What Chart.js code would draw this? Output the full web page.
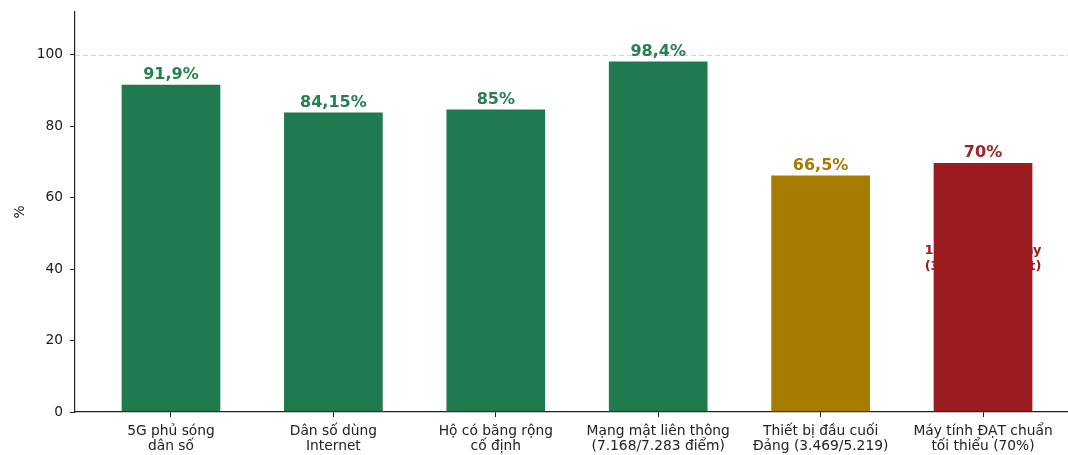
<!DOCTYPE html>
<html>
<head>
<meta charset="utf-8">
<script src="https://cdn.jsdelivr.net/npm/chart.js@4.4.1/dist/chart.umd.min.js"></script>
<style>
  html, body { margin: 0; padding: 0; background: #fff; overflow: hidden; }
  #wrap { width: 1090px; height: 455px; }
</style>
</head>
<body>
<div id="wrap"><canvas id="c" width="1090" height="455"></canvas></div>
<script>
const categories = [
  ["5G phủ sóng", "dân số"],
  ["Dân số dùng", "Internet"],
  ["Hộ có băng rộng", "cố định"],
  ["Mạng mật liên thông", "(7.168/7.283 điểm)"],
  ["Thiết bị đầu cuối", "Đảng (3.469/5.219)"],
  ["Máy tính ĐẠT chuẩn", "tối thiểu (70%)"]
];
const values = [91.9, 84.15, 85, 98.4, 66.5, 70];
const valueLabels = ["91,9%", "84,15%", "85%", "98,4%", "66,5%", "70%"];
const barColors = ["#1f7a4f", "#1f7a4f", "#1f7a4f", "#1f7a4f", "#a67c00", "#9b1c20"];
const labelColors = ["#27804f", "#27804f", "#27804f", "#27804f", "#a67c00", "#a3232a"];
const yTicks = [0, 20, 40, 60, 80, 100];
const noteLines = ["1.750/2500 máy", "(3.469 máy đạt)"];
const noteValue = 43;

const valueLabelPlugin = {
  id: 'valueLabels',
  afterDatasetsDraw(chart) {
    const ctx = chart.ctx;
    const meta = chart.getDatasetMeta(0);
    ctx.save();
    ctx.font = 'bold 16px "DejaVu Sans"';
    ctx.textAlign = 'center';
    ctx.textBaseline = 'bottom';
    meta.data.forEach((el, i) => {
      ctx.fillStyle = labelColors[i];
      ctx.fillText(valueLabels[i], el.x, el.y - 1);
    });
    const last = meta.data[meta.data.length - 1];
    const yc = chart.scales.y.getPixelForValue(noteValue);
    ctx.font = 'bold 13px "DejaVu Sans"';
    ctx.textBaseline = 'middle';
    ctx.fillStyle = barColors[5];
    ctx.fillText(noteLines[0], last.x, yc - 8);
    ctx.fillText(noteLines[1], last.x, yc + 8);
    ctx.restore();
  }
};

const refLinePlugin = {
  id: 'refLine',
  beforeDatasetsDraw(chart) {
    const ctx = chart.ctx;
    const y = chart.scales.y.getPixelForValue(100);
    const a = chart.chartArea;
    ctx.save();
    ctx.strokeStyle = '#cfcfcf';
    ctx.lineWidth = 1;
    ctx.setLineDash([5, 3]);
    ctx.beginPath();
    ctx.moveTo(a.left, y + 0.5);
    ctx.lineTo(a.right, y + 0.5);
    ctx.stroke();
    ctx.restore();
  }
};

new Chart(document.getElementById('c'), {
  type: 'bar',
  data: {
    datasets: [{
      data: values.map((v, i) => ({ x: i, y: v })),
      backgroundColor: barColors,
      borderColor: 'rgba(255,255,255,0.3)',
      borderWidth: 1,
      barPercentage: 0.62,
      categoryPercentage: 1
    }]
  },
  options: {
    responsive: false,
    animation: false,
    devicePixelRatio: 1,
    layout: { padding: { top: 12, right: 11, left: 0, bottom: 0 } },
    plugins: { legend: { display: false }, tooltip: { enabled: false } },
    scales: {
      x: {
        type: 'linear',
        offset: false,
        min: -0.591,
        max: 5.591,
        afterBuildTicks: s => { s.ticks = categories.map((c, i) => ({ value: i })); },
        afterFit: s => { s.height = 43; s.paddingLeft = 0; s.paddingRight = 0; },
        ticks: {
          autoSkip: false,
          maxRotation: 0,
          padding: 7,
          color: '#222',
          font: { family: 'DejaVu Sans', size: 13.8, lineHeight: 1.08 },
          callback: v => categories[v]
        },
        grid: { offset: false, drawOnChartArea: false, tickLength: 5, tickColor: '#222', tickWidth: 1 },
        border: { display: true, color: '#222', width: 1.2 }
      },
      y: {
        min: 0,
        max: 112,
        afterBuildTicks: s => { s.ticks = yTicks.map(v => ({ value: v })); },
        afterFit: s => { s.width = 75; s.paddingTop = 0; s.paddingBottom = 0; },
        ticks: {
          padding: 7,
          color: '#222',
          font: { family: 'DejaVu Sans', size: 13.8 }
        },
        grid: { drawOnChartArea: false, tickLength: 5, tickColor: '#222', tickWidth: 1 },
        border: { display: true, color: '#222', width: 1.2 },
        title: {
          display: true,
          text: '%',
          color: '#222',
          font: { family: 'DejaVu Sans', size: 13.8 },
          padding: { top: 12, bottom: 0 }
        }
      }
    }
  },
  plugins: [refLinePlugin, valueLabelPlugin]
});
</script>
</body>
</html>
